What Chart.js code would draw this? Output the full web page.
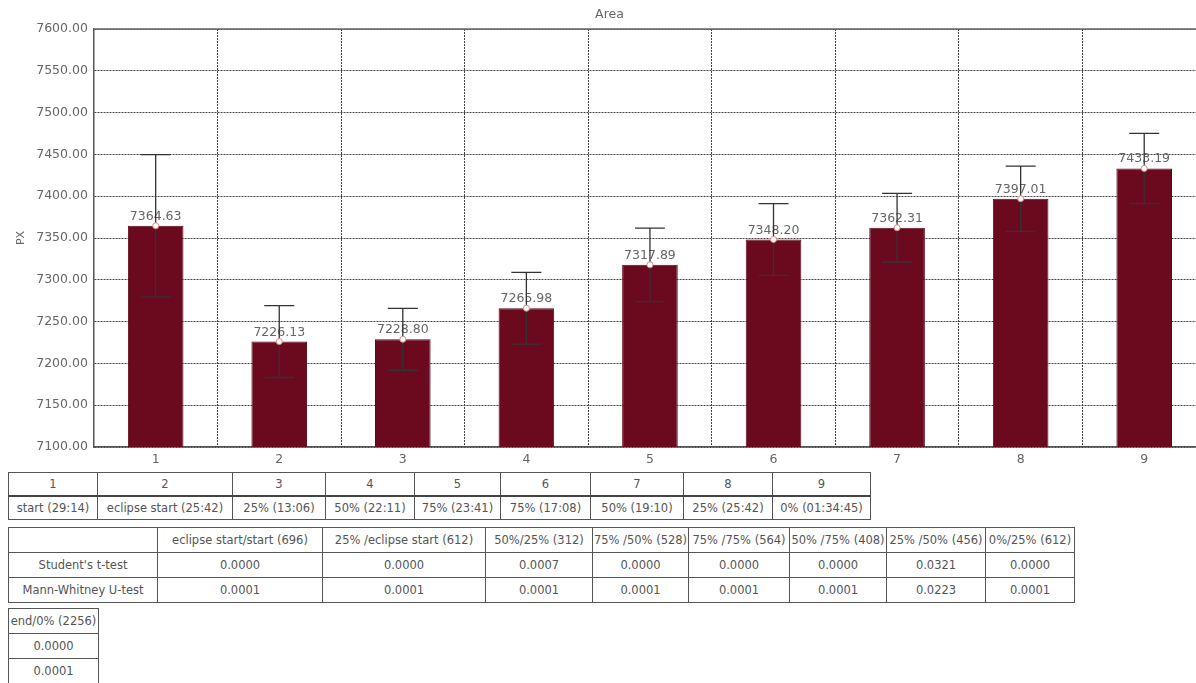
<!DOCTYPE html>
<html>
<head>
<meta charset="utf-8">
<script src="https://cdn.jsdelivr.net/npm/chart.js@4.4.0/dist/chart.umd.min.js"></script>
<style>
    body { margin: 0; background: #fff; overflow: hidden; font-family: "DejaVu Sans", sans-serif; }
    #wrap { position: absolute; left: 0; top: 0; width: 1206px; height: 472px; }
    table { position: absolute; border-collapse: collapse; table-layout: fixed; font-size: 11.5px; color: #555; }
    td { border: 1px solid #555; text-align: center; padding: 0; height: 22px; white-space: nowrap; overflow: hidden; }
    #groupTable { left: 8px; top: 472px; }
    #groupTable tr:first-child td { border-bottom: 2px solid #444; }
    #testTable { left: 8px; top: 527px; }
    #testTable td { height: 24px; }
    #endTable { left: 8px; top: 608px; }
    #endTable td { height: 24px; }
</style>
</head>
<body>
<div id="wrap"><canvas id="areaChart"></canvas></div>
<table id="groupTable"></table>
<table id="testTable"></table>
<table id="endTable"></table>
<script>
// bar data
const categories = ['1', '2', '3', '4', '5', '6', '7', '8', '9'];
const meanValues = [7364.63, 7226.13, 7228.80, 7265.98, 7317.89, 7348.20, 7362.31, 7397.01, 7433.19];
const errValues = [85, 43, 37, 43, 44, 43, 41, 39, 42];

// tables
const groupNames = ['start (29:14)', 'eclipse start (25:42)', '25%  (13:06)', '50% (22:11)', '75%  (23:41)',
                    '75%  (17:08)', '50% (19:10)', '25%  (25:42)', '0% (01:34:45)'];
const groupWidths = [89, 135, 93, 89, 86, 90, 93, 89, 98];
const pairNames = ['eclipse start/start (696)', '25% /eclipse start (612)', '50%/25%  (312)', '75% /50% (528)',
                   '75% /75%  (564)', '50% /75%  (408)', '25% /50%  (456)', '0%/25%  (612)'];
const pairWidths = [165, 163, 107, 96, 101, 97, 99, 89];
const tTest = ['0.0000', '0.0000', '0.0007', '0.0000', '0.0000', '0.0000', '0.0321', '0.0000'];
const uTest = ['0.0001', '0.0001', '0.0001', '0.0001', '0.0001', '0.0001', '0.0223', '0.0001'];
const endPair = 'end/0% (2256)';
const endT = '0.0000';
const endU = '0.0001';

const barColor = '#6b0a1f';
const textColor = '#666';
const chartFont = { family: 'DejaVu Sans', size: 12.5 };

// error bars, markers, value labels and the solid top frame line
const errorBarPlugin = {
    id: 'errorBars',
    afterDatasetsDraw(chart) {
        const ctx = chart.ctx;
        const y = chart.scales.y;
        const area = chart.chartArea;
        const meta = chart.getDatasetMeta(0);
        ctx.save();
        ctx.strokeStyle = '#666';
        ctx.lineWidth = 1.5;
        ctx.beginPath();
        ctx.moveTo(area.left, area.top);
        ctx.lineTo(area.right, area.top);
        ctx.stroke();
        meta.data.forEach((bar, i) => {
            const x = bar.x;
            const top = y.getPixelForValue(meanValues[i] + errValues[i]);
            const bot = y.getPixelForValue(meanValues[i] - errValues[i]);
            const mid = y.getPixelForValue(meanValues[i]);
            ctx.font = '12.5px "DejaVu Sans"';
            ctx.fillStyle = textColor;
            ctx.textAlign = 'center';
            ctx.textBaseline = 'bottom';
            ctx.fillText(meanValues[i].toFixed(2), x, mid - 3);
            ctx.strokeStyle = '#333';
            ctx.lineWidth = 1.3;
            ctx.beginPath();
            ctx.moveTo(x, top); ctx.lineTo(x, bot);
            ctx.moveTo(x - 15, top); ctx.lineTo(x + 15, top);
            ctx.moveTo(x - 15, bot); ctx.lineTo(x + 15, bot);
            ctx.stroke();
            ctx.beginPath();
            ctx.arc(x, mid, 3, 0, Math.PI * 2);
            ctx.fillStyle = '#fff';
            ctx.fill();
            ctx.strokeStyle = '#d88';
            ctx.lineWidth = 1;
            ctx.stroke();
        });
        ctx.restore();
    }
};

const ctx = document.getElementById('areaChart').getContext('2d');
new Chart(ctx, {
    type: 'bar',
    data: {
        labels: categories,
        datasets: [{
            data: meanValues,
            backgroundColor: barColor,
            borderColor: '#5a0818',
            borderWidth: 1,
            barPercentage: 0.9,
            categoryPercentage: 0.5
        }]
    },
    options: {
        responsive: true,
        maintainAspectRatio: false,
        animation: false,
        layout: { padding: { left: 13, right: 0, top: 0, bottom: 0 } },
        scales: {
            x: {
                grid: { color: '#444', lineWidth: 1, drawTicks: false },
                border: { display: true, color: '#555', width: 1.5, dash: [2, 1] },
                ticks: { color: textColor, font: chartFont, padding: 5 }
            },
            y: {
                min: 7100,
                max: 7600,
                grid: { color: '#444', lineWidth: 1, drawTicks: false },
                border: { display: true, color: '#555', width: 1.5, dash: [2, 1] },
                ticks: {
                    stepSize: 50,
                    color: textColor,
                    font: chartFont,
                    padding: 6,
                    callback: (v) => v.toFixed(2)
                },
                title: { display: true, text: 'PX', color: textColor, font: { family: 'DejaVu Sans', size: 11 }, padding: 2 }
            }
        },
        plugins: {
            legend: { display: false },
            tooltip: { enabled: false },
            title: {
                display: true,
                text: 'Area',
                color: textColor,
                font: { family: 'DejaVu Sans', size: 12.5, weight: 'normal' },
                padding: { top: 7, bottom: 7 }
            }
        }
    },
    plugins: [errorBarPlugin]
});

// build tables with fixed column widths
function cell(text) {
    const td = document.createElement('td');
    td.textContent = text;
    return td;
}

function setColumns(table, widths) {
    const group = document.createElement('colgroup');
    widths.forEach(w => {
        const col = document.createElement('col');
        col.style.width = w + 'px';
        group.appendChild(col);
    });
    table.appendChild(group);
    table.style.width = widths.reduce((a, b) => a + b, 0) + 'px';
}

const groupTable = document.getElementById('groupTable');
setColumns(groupTable, groupWidths);
let r1 = groupTable.insertRow();
let r2 = groupTable.insertRow();
categories.forEach((c, i) => {
    r1.appendChild(cell(c));
    r2.appendChild(cell(groupNames[i]));
});

const testTable = document.getElementById('testTable');
setColumns(testTable, [149].concat(pairWidths));
const head = testTable.insertRow();
head.appendChild(cell(''));
pairNames.forEach(p => head.appendChild(cell(p)));
const tRow = testTable.insertRow();
tRow.appendChild(cell("Student's t-test"));
tTest.forEach(v => tRow.appendChild(cell(v)));
const uRow = testTable.insertRow();
uRow.appendChild(cell('Mann-Whitney U-test'));
uTest.forEach(v => uRow.appendChild(cell(v)));

const endTable = document.getElementById('endTable');
setColumns(endTable, [90]);
[endPair, endT, endU].forEach(t => endTable.insertRow().appendChild(cell(t)));
</script>
</body>
</html>
